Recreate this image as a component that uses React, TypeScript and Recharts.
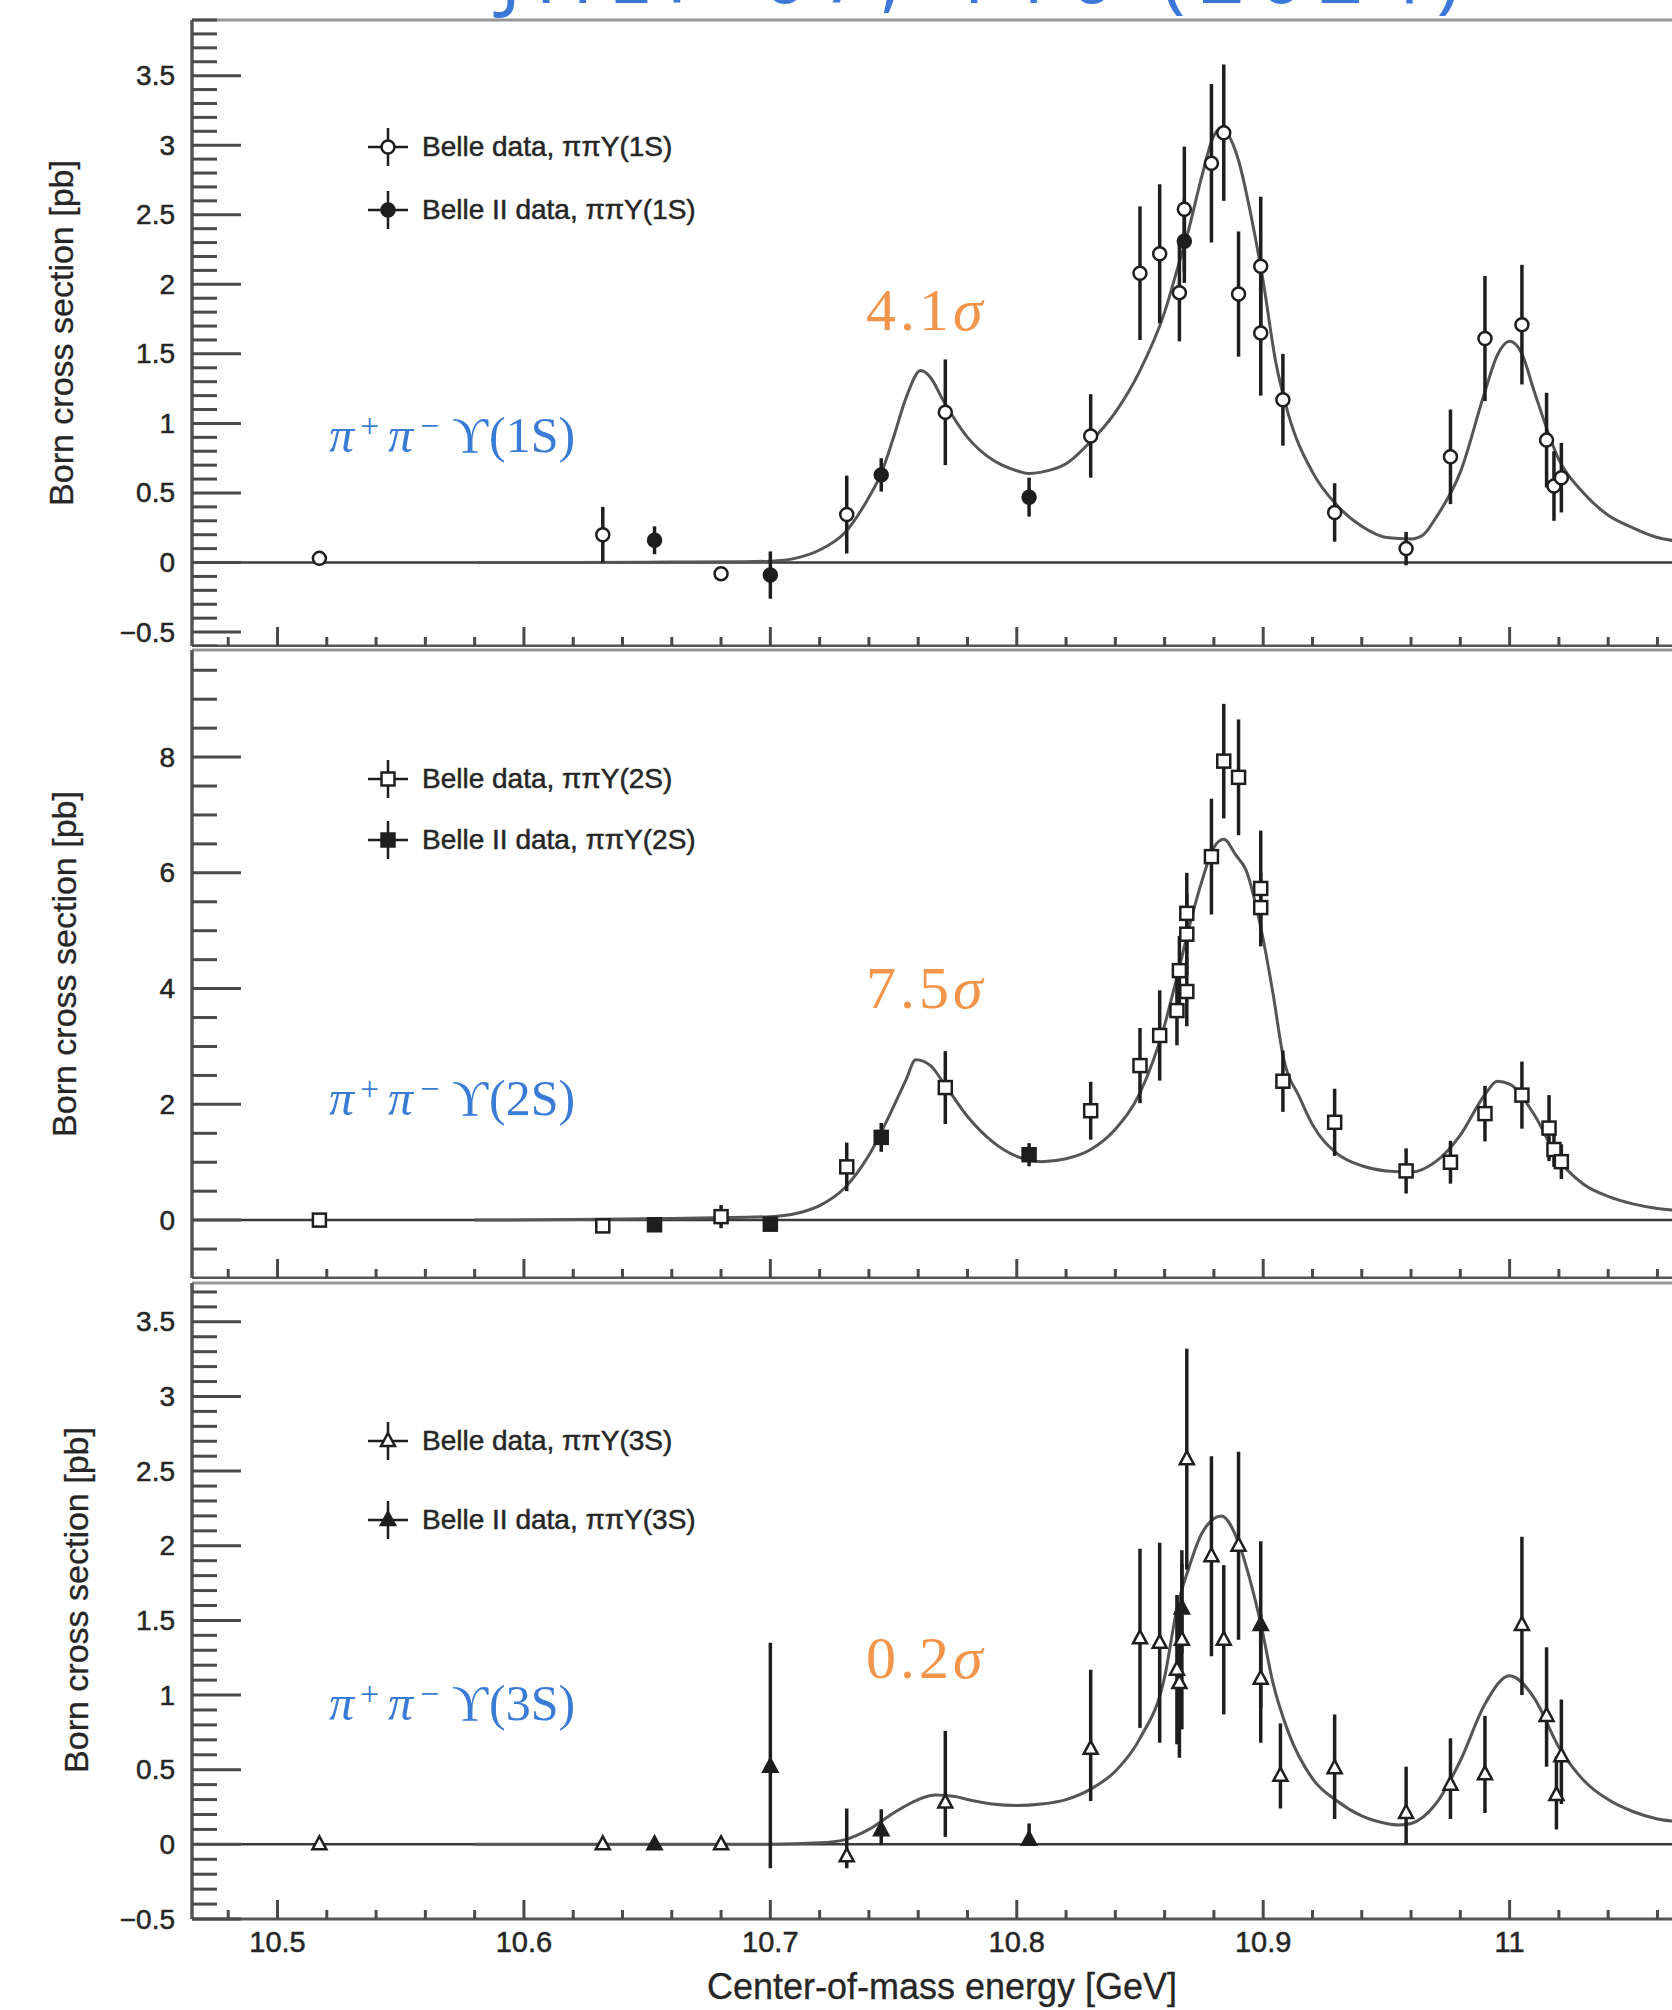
import React from 'react';
import { ComposedChart, Line, Scatter, ErrorBar, XAxis, YAxis, ReferenceLine, Legend } from 'recharts';

type Err = number | [number, number];
type Pt = { x: number; y: number; err: Err };
type CurvePt = { x: number; y: number };

const P = (x: number, y: number, err: Err): Pt => ({ x, y, err });
const C = (x: number, y: number): CurvePt => ({ x, y });

// ---- axis ticks ----
const range = (from: number, to: number, step: number) => {
  const out: number[] = [];
  const n = Math.round((to - from) / step);
  for (let i = 0; i <= n; i++) out.push(Math.round((from + i * step) * 1000) / 1000);
  return out;
};
const energyTicks = range(10.48, 11.06, 0.02);
const yTicks1S = range(-0.6, 3.9, 0.1);
const yTicks2S = range(-0.5, 9.5, 0.5);
const yTicks3S = range(-0.5, 3.7, 0.1);

// ---- pi pi Y(1S) ----
const curve1S: CurvePt[] = [
  C(10.58, 0), C(10.62, 0), C(10.66, 0.003), C(10.69, 0.006), C(10.7, 0.01), C(10.71, 0.03),
  C(10.72, 0.09), C(10.73, 0.21), C(10.74, 0.47), C(10.745, 0.64), C(10.75, 0.9), C(10.755, 1.18),
  C(10.761, 1.38), C(10.765, 1.33), C(10.77, 1.17), C(10.78, 0.9), C(10.79, 0.74), C(10.8, 0.66),
  C(10.805, 0.64), C(10.81, 0.65), C(10.82, 0.71), C(10.83, 0.87), C(10.84, 1.08), C(10.85, 1.38),
  C(10.86, 1.8), C(10.865, 2.1), C(10.87, 2.41), C(10.875, 2.77), C(10.88, 3.07), C(10.883, 3.12),
  C(10.886, 3.07), C(10.89, 2.89), C(10.895, 2.5), C(10.9, 2.02), C(10.905, 1.45), C(10.91, 1.08),
  C(10.92, 0.65), C(10.93, 0.41), C(10.94, 0.26), C(10.95, 0.18), C(10.96, 0.17), C(10.965, 0.2),
  C(10.97, 0.32), C(10.98, 0.65), C(10.99, 1.23), C(10.995, 1.49), C(11.0, 1.59), C(11.005, 1.5),
  C(11.01, 1.23), C(11.02, 0.74), C(11.03, 0.5), C(11.04, 0.34), C(11.05, 0.25), C(11.06, 0.18),
  C(11.07, 0.15),
];
const belle1S: Pt[] = [
  P(10.517, 0.03, 0.04), P(10.632, 0.2, 0.2), P(10.68, -0.08, 0.04), P(10.731, 0.345, 0.28),
  P(10.771, 1.08, 0.38), P(10.83, 0.91, 0.3), P(10.85, 2.08, 0.48), P(10.858, 2.22, 0.5),
  P(10.866, 1.94, 0.35), P(10.868, 2.54, 0.45), P(10.879, 2.87, 0.57), P(10.884, 3.09, 0.49),
  P(10.89, 1.93, 0.45), P(10.899, 2.13, 0.5), P(10.899, 1.65, 0.45), P(10.908, 1.17, 0.33),
  P(10.929, 0.36, 0.21), P(10.958, 0.1, 0.12), P(10.976, 0.76, 0.34), P(10.99, 1.61, 0.45),
  P(11.005, 1.71, 0.43), P(11.015, 0.88, 0.34), P(11.018, 0.55, 0.25), P(11.021, 0.61, 0.25),
];
const belleII1S: Pt[] = [
  P(10.653, 0.16, 0.1), P(10.7, -0.09, 0.17), P(10.745, 0.63, 0.12), P(10.805, 0.47, 0.14),
  P(10.868, 2.31, 0.3),
];

// ---- pi pi Y(2S) ----
const curve2S: CurvePt[] = [
  C(10.58, 0), C(10.62, 0.01), C(10.66, 0.03), C(10.69, 0.05), C(10.7, 0.06), C(10.71, 0.11),
  C(10.72, 0.25), C(10.73, 0.55), C(10.74, 1.12), C(10.75, 1.96), C(10.755, 2.42), C(10.759, 2.77),
  C(10.765, 2.67), C(10.77, 2.39), C(10.78, 1.79), C(10.79, 1.36), C(10.8, 1.1), C(10.81, 1.01),
  C(10.82, 1.06), C(10.83, 1.22), C(10.84, 1.57), C(10.85, 2.2), C(10.86, 3.37), C(10.865, 4.2),
  C(10.87, 5.07), C(10.875, 5.84), C(10.88, 6.44), C(10.884, 6.58), C(10.889, 6.3), C(10.893, 6.05),
  C(10.899, 5.06), C(10.904, 3.91), C(10.908, 2.85), C(10.915, 2.1), C(10.92, 1.65), C(10.93, 1.15),
  C(10.94, 0.94), C(10.95, 0.85), C(10.96, 0.83), C(10.97, 1.01), C(10.98, 1.47), C(10.99, 2.17),
  C(10.995, 2.4), C(11.0, 2.35), C(11.01, 1.82), C(11.02, 1.04), C(11.03, 0.62), C(11.04, 0.41),
  C(11.05, 0.28), C(11.06, 0.2), C(11.07, 0.16),
];
const belle2S: Pt[] = [
  P(10.517, 0.0, 0.06), P(10.632, -0.1, 0.1), P(10.68, 0.06, 0.2), P(10.731, 0.92, 0.42),
  P(10.771, 2.29, 0.63), P(10.83, 1.89, 0.5), P(10.85, 2.67, 0.65), P(10.858, 3.19, 0.78),
  P(10.865, 3.62, 0.6), P(10.869, 3.95, 0.6), P(10.866, 4.31, 0.6), P(10.869, 4.94, 0.7),
  P(10.869, 5.3, 0.7), P(10.879, 6.28, 1.0), P(10.884, 7.93, 0.99), P(10.89, 7.65, 1.0),
  P(10.899, 5.73, 1.0), P(10.899, 5.4, 0.6), P(10.908, 2.4, 0.53), P(10.929, 1.69, 0.58),
  P(10.958, 0.85, 0.39), P(10.976, 1.0, 0.37), P(10.99, 1.84, 0.48), P(11.005, 2.16, 0.58),
  P(11.016, 1.59, 0.57), P(11.018, 1.22, 0.3), P(11.021, 1.01, 0.3),
];
const belleII2S: Pt[] = [
  P(10.653, -0.08, 0.1), P(10.7, -0.07, 0.1), P(10.745, 1.43, 0.25), P(10.805, 1.13, 0.2),
];

// ---- pi pi Y(3S) ----
const curve3S: CurvePt[] = [
  C(10.58, 0), C(10.7, 0), C(10.72, 0.01), C(10.73, 0.03), C(10.74, 0.1), C(10.75, 0.21),
  C(10.76, 0.3), C(10.767, 0.33), C(10.775, 0.32), C(10.78, 0.3), C(10.79, 0.27), C(10.8, 0.26),
  C(10.81, 0.27), C(10.82, 0.3), C(10.83, 0.37), C(10.84, 0.49), C(10.85, 0.71), C(10.86, 1.12),
  C(10.865, 1.58), C(10.87, 1.86), C(10.875, 2.08), C(10.883, 2.2), C(10.89, 2.02), C(10.895, 1.75),
  C(10.899, 1.48), C(10.904, 1.08), C(10.91, 0.76), C(10.92, 0.44), C(10.93, 0.29), C(10.94, 0.19),
  C(10.95, 0.14), C(10.955, 0.13), C(10.96, 0.14), C(10.97, 0.27), C(10.98, 0.56), C(10.99, 0.94),
  C(11.0, 1.13), C(11.01, 0.98), C(11.02, 0.65), C(11.03, 0.43), C(11.04, 0.3), C(11.05, 0.22),
  C(11.06, 0.17), C(11.07, 0.15),
];
const belle3S: Pt[] = [
  P(10.517, 0, 0.03), P(10.632, 0, 0.03), P(10.68, 0, 0.03), P(10.731, -0.08, [0.08, 0.32]),
  P(10.771, 0.28, [0.23, 0.48]), P(10.83, 0.64, [0.35, 0.53]), P(10.85, 1.38, 0.6),
  P(10.858, 1.35, 0.67), P(10.865, 1.17, 0.5), P(10.866, 1.08, 0.5), P(10.867, 1.37, 0.6),
  P(10.869, 2.58, 0.74), P(10.879, 1.93, 0.67), P(10.884, 1.37, 0.5), P(10.89, 2.0, 0.63),
  P(10.899, 1.11, 0.43), P(10.907, 0.46, [0.22, 0.35]), P(10.929, 0.51, [0.34, 0.36]),
  P(10.958, 0.21, [0.21, 0.31]), P(10.976, 0.4, [0.23, 0.31]), P(10.99, 0.47, [0.26, 0.39]),
  P(11.005, 1.47, [0.47, 0.59]), P(11.015, 0.86, [0.34, 0.46]), P(11.019, 0.33, [0.23, 0.26]),
  P(11.021, 0.59, [0.32, 0.38]),
];
const belleII3S: Pt[] = [
  P(10.653, 0, 0.03), P(10.7, 0.52, [0.68, 0.83]), P(10.745, 0.095, [0.1, 0.14]),
  P(10.805, 0.03, [0.03, 0.11]), P(10.867, 1.58, 0.3), P(10.899, 1.47, 0.56),
];

// ---- style ----
const X_DOMAIN: [number, number] = [10.4653, 11.0659];
const PAD = 10;
const INK = '#1e1e1e';
const AXIS = '#4a4a4a';
const TEXT = '#262626';
const SANS = '"Liberation Sans", Arial, Helvetica, sans-serif';
const SERIF = '"Liberation Serif", "DejaVu Serif", serif';
const BLUE = '#3a7bd5';
const ORANGE = '#f2954a';

const fmtY = (v: number) => (v === 0 ? '0' : v < 0 ? `\u2212${Math.abs(v)}` : `${v}`);
const fmtX = (v: number) => (Math.abs(v - 11) < 1e-6 ? '11' : v.toFixed(1));
const isMult = (v: number, step: number) => Math.abs(v / step - Math.round(v / step)) < 1e-6;

const Marker = ({ cx, cy, kind, filled }: any) => {
  if (cx == null || cy == null) return null;
  const common = { fill: filled ? INK : '#fff', stroke: INK, strokeWidth: 2.5 };
  if (kind === 'circle') return <circle cx={cx} cy={cy} r={6.5} {...common} />;
  if (kind === 'square') return <rect x={cx - 6.5} y={cy - 6.5} width={13} height={13} {...common} />;
  return <polygon points={`${cx},${cy - 8} ${cx + 7},${cy + 5} ${cx - 7},${cy + 5}`} {...common} />;
};

const YTick = (props: any) => {
  const { x, y, payload, major } = props;
  const v = payload.value;
  const big = isMult(v, major);
  return (
    <g>
      <line x1={x} y1={y} x2={x + (big ? 49 : 25)} y2={y} stroke={AXIS} strokeWidth={3} />
      {big && (
        <text x={x - 17} y={y} textAnchor="end" dominantBaseline="central" fontSize={28} fill={TEXT} stroke={TEXT} strokeWidth={0.5} fontFamily={SANS}>
          {fmtY(v)}
        </text>
      )}
    </g>
  );
};

const XTick = (props: any) => {
  const { x, y, payload, showLabel } = props;
  const v = payload.value;
  const big = isMult(v, 0.1);
  return (
    <g>
      <line x1={x} y1={y} x2={x} y2={y - (big ? 19 : 9)} stroke={AXIS} strokeWidth={3} />
      {big && showLabel && (
        <text x={x} y={y + 33} textAnchor="middle" fontSize={29} fill={TEXT} stroke={TEXT} strokeWidth={0.5} fontFamily={SANS}>
          {fmtX(v)}
        </text>
      )}
    </g>
  );
};

const LegendBox = ({ kind, labels, gap }: any) => (
  <div style={{ position: 'relative' }}>
    {labels.map((label: string, i: number) => (
      <div key={label} style={{ position: 'absolute', left: 0, top: i * gap, height: 44, display: 'flex', alignItems: 'center', whiteSpace: 'nowrap' }}>
        <svg width={60} height={44}>
          <line x1={10} y1={22} x2={50} y2={22} stroke={INK} strokeWidth={2.5} />
          <line x1={30} y1={3} x2={30} y2={41} stroke={INK} strokeWidth={2.5} />
          <Marker cx={30} cy={22} kind={kind} filled={i === 1} />
        </svg>
        <span style={{ marginLeft: 4, fontFamily: SANS, fontSize: 28, color: TEXT, WebkitTextStroke: `0.5px ${TEXT}` }}>{label}</span>
      </div>
    ))}
  </div>
);

const panels = [
  {
    id: '1S', plotTop: 20, plotHeight: 626, axisHeight: 1, yDomain: [-0.6, 3.9] as [number, number],
    yTicks: yTicks1S, major: 0.5, curve: curve1S, belle: belle1S, belle2: belleII1S, kind: 'circle',
    showX: false, legendY: 147, legendGap: 63,
  },
  {
    id: '2S', plotTop: 650, plotHeight: 628, axisHeight: 1, yDomain: [-1, 9.85] as [number, number],
    yTicks: yTicks2S, major: 2, curve: curve2S, belle: belle2S, belle2: belleII2S, kind: 'square',
    showX: false, legendY: 779, legendGap: 61,
  },
  {
    id: '3S', plotTop: 1283, plotHeight: 636, axisHeight: 91, yDomain: [-0.5, 3.76] as [number, number],
    yTicks: yTicks3S, major: 0.5, curve: curve3S, belle: belle3S, belle2: belleII3S, kind: 'triangle',
    showX: true, legendY: 1441, legendGap: 79,
  },
];

const Panel = ({ cfg }: any) => {
  const chartTop = cfg.plotTop - PAD;
  const labels = [`Belle data, \u03c0\u03c0\u03a5(${cfg.id})`, `Belle II data, \u03c0\u03c0\u03a5(${cfg.id})`];
  return (
    <div style={{ position: 'absolute', left: 0, top: chartTop }}>
      <ComposedChart
        width={1672}
        height={PAD + cfg.plotHeight + cfg.axisHeight}
        margin={{ top: PAD, right: 0, bottom: 0, left: 0 }}
      >
        <XAxis
          type="number"
          dataKey="x"
          domain={X_DOMAIN}
          allowDataOverflow
          ticks={energyTicks}
          interval={0}
          height={cfg.axisHeight}
          tickSize={0}
          tickMargin={0}
          tickLine={false}
          axisLine={{ stroke: '#555', strokeWidth: 3 }}
          tick={<XTick showLabel={cfg.showX} />}
        />
        <YAxis
          type="number"
          domain={cfg.yDomain}
          allowDataOverflow
          ticks={cfg.yTicks}
          interval={0}
          width={192}
          tickSize={0}
          tickMargin={0}
          tickLine={false}
          axisLine={{ stroke: '#555', strokeWidth: 3.5 }}
          tick={<YTick major={cfg.major} />}
        />
        <ReferenceLine y={cfg.yDomain[1]} stroke="#959595" strokeWidth={3} />
        <ReferenceLine y={0} stroke="#3a3a3a" strokeWidth={2.5} />
        <Line
          data={cfg.curve}
          dataKey="y"
          type="monotone"
          stroke="#555"
          strokeWidth={3}
          dot={false}
          activeDot={false}
          isAnimationActive={false}
        />
        <Scatter
          data={cfg.belle}
          dataKey="y"
          isAnimationActive={false}
          shape={(p: any) => <Marker cx={p.cx} cy={p.cy} kind={cfg.kind} filled={false} />}
        >
          <ErrorBar dataKey="err" direction="y" width={0} stroke={INK} strokeWidth={3.5} />
        </Scatter>
        <Scatter
          data={cfg.belle2}
          dataKey="y"
          isAnimationActive={false}
          shape={(p: any) => <Marker cx={p.cx} cy={p.cy} kind={cfg.kind} filled />}
        >
          <ErrorBar dataKey="err" direction="y" width={0} stroke={INK} strokeWidth={3.5} />
        </Scatter>
        <Legend
          layout="horizontal"
          verticalAlign="middle"
          align="center"
          wrapperStyle={{ left: 358, top: cfg.legendY - chartTop - 22, width: 440, height: 10 }}
          content={() => <LegendBox kind={cfg.kind} labels={labels} gap={cfg.legendGap} />}
        />
      </ComposedChart>
    </div>
  );
};

// annotation text positions (page pixels)
const channels = [
  { id: '1S', base: 452, sigma: '4.1', sigmaBase: 330, titleY: 333, titleX: 61 },
  { id: '2S', base: 1115, sigma: '7.5', sigmaBase: 1008, titleY: 964, titleX: 64 },
  { id: '3S', base: 1720, sigma: '0.2', sigmaBase: 1678, titleY: 1600, titleX: 76 },
];

const App: React.FC = () => (
  <div style={{ position: 'fixed', left: 0, top: 0, width: 1672, height: 2010, overflow: 'hidden', background: '#fff' }}>
    <svg width={1672} height={40} style={{ position: 'absolute', left: 0, top: 0 }}>
      <text x={500} y={3} fontFamily='"Open Sans", Lato, sans-serif' fontSize={80} fill="#3c78d8" textLength={960} lengthAdjust="spacing">
        JHEP 07, 116 (2024)
      </text>
    </svg>
    {panels.map((cfg) => (
      <Panel key={cfg.id} cfg={cfg} />
    ))}
    <svg width={1672} height={2010} style={{ position: 'absolute', left: 0, top: 0, pointerEvents: 'none' }}>
      {channels.map((c) => (
        <g key={c.id}>
          <text
            x={c.titleX}
            y={c.titleY}
            transform={`rotate(-90, ${c.titleX}, ${c.titleY})`}
            textAnchor="middle"
            dominantBaseline="central"
            fontFamily={SANS}
            fontSize={34}
            fill={TEXT}
            stroke={TEXT}
            strokeWidth={0.3}
          >
            Born cross section [pb]
          </text>
          <text y={c.base} fontFamily={SERIF} fontSize={50} fill={BLUE}>
            <tspan x={329} fontStyle="italic">{'\u03c0'}</tspan>
            <tspan x={360} y={c.base - 15} fontSize={34}>+</tspan>
            <tspan x={388} y={c.base} fontStyle="italic">{'\u03c0'}</tspan>
            <tspan x={420} y={c.base - 15} fontSize={34}>{'\u2212'}</tspan>
            <tspan x={452} y={c.base}>{'\u03d2'}</tspan>
            <tspan x={489} y={c.base}>({c.id})</tspan>
          </text>
          <text x={866} y={c.sigmaBase} fontFamily={SERIF} fontSize={60} fill={ORANGE} letterSpacing={4}>
            {c.sigma}
            <tspan fontStyle="italic">{'\u03c3'}</tspan>
          </text>
        </g>
      ))}
      <text x={942} y={1999} textAnchor="middle" fontFamily={SANS} fontSize={36} fill={TEXT} stroke={TEXT} strokeWidth={0.3}>
        Center-of-mass energy [GeV]
      </text>
    </svg>
  </div>
);

export default App;
